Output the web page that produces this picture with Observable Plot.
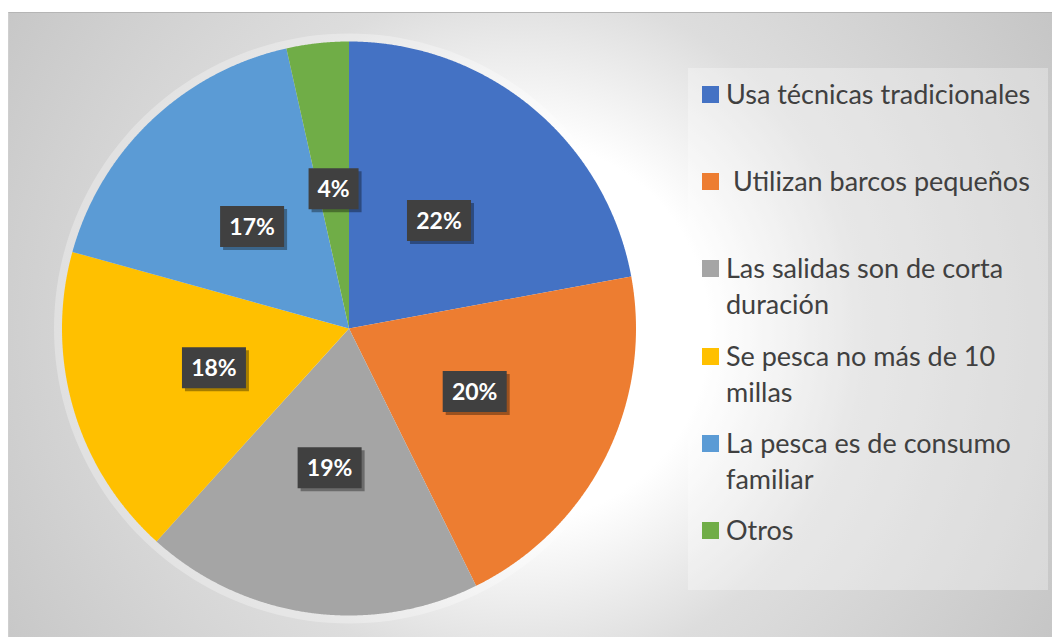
<!DOCTYPE html>
<html><head><meta charset="utf-8">
<script src="https://cdn.jsdelivr.net/npm/d3@7"></script>
<script src="https://cdn.jsdelivr.net/npm/@observablehq/plot@0.6"></script>
<style>
html,body{margin:0;padding:0;background:#fff;width:1052px;height:637px;overflow:hidden;}
#frame{position:absolute;left:8px;top:12px;width:1044px;height:625px;border-top:1px solid #b5b5b5;border-left:1px solid #cfcfcf;
  background:radial-gradient(circle at 510px 318px,#ffffff 0px,#ffffff 190px,#dddddd 345px,#c4c4c4 640px);overflow:hidden;}
#chart{position:absolute;left:0;top:0;}
#legend{position:absolute;left:679px;top:55px;width:360px;height:522px;background:rgba(255,255,255,0.3);}
.entry{position:absolute;left:14px;font-family:Lato,sans-serif;font-size:27px;line-height:36px;color:#404040;white-space:pre;}
.sw{position:absolute;left:0;width:17px;height:17px;}
.tx{position:absolute;left:24px;top:0;}
</style></head>
<body>
<div id="frame"><div id="chart"></div><div id="legend"></div></div>
<script>
// ---- data ----
const categories = ["Usa técnicas tradicionales", " Utilizan barcos pequeños", "Las salidas son de corta\nduración", "Se pesca no más de 10\nmillas", "La pesca es de consumo\nfamiliar", "Otros"];
const shares = [22.1, 20.6, 19.0, 17.6, 17.2, 3.5];
const pctLabels = ["22%", "20%", "19%", "18%", "17%", "4%"];
const colors = ["#4472C4", "#ED7D31", "#A5A5A5", "#FFC000", "#5B9BD5", "#70AD47"];

// ---- layout ----
const W = 1043, H = 624;
const cx = 339.5, cy = 315, R = 287;
const labelR = 0.49 * R;

const arcs = d3.pie().sort(null).startAngle(0).endAngle(2 * Math.PI)(shares);
const pt = (a, r) => [cx + r * Math.sin(a), cy - r * Math.cos(a)];
const slices = arcs.map((p, i) => {
  const ring = [[cx, cy]];
  const n = Math.max(4, Math.ceil((p.endAngle - p.startAngle) / 0.004));
  for (let k = 0; k <= n; k++) ring.push(pt(p.startAngle + (p.endAngle - p.startAngle) * k / n, R));
  ring.push([cx, cy]);
  return {type: "Feature", properties: {name: categories[i], color: colors[i]}, geometry: {type: "Polygon", coordinates: [ring]}};
});
const glowRing = d3.range(0, 361, 2).map(d => pt(d * Math.PI / 180, R + 8));
const glow = {type: "Feature", properties: {}, geometry: {type: "Polygon", coordinates: [glowRing]}};

const labels = arcs.map((p, i) => {
  const [x, y] = pt((p.startAngle + p.endAngle) / 2, labelR);
  return {x, y, text: pctLabels[i]};
});
const boxes = labels.map(l => {
  const w = l.text.length > 2 ? 64 : 50, h = 41;
  const x0 = l.x - w / 2, y0 = l.y - h / 2;
  return {type: "Feature", properties: {}, geometry: {type: "Polygon", coordinates: [[[x0, y0], [x0 + w, y0], [x0 + w, y0 + h], [x0, y0 + h], [x0, y0]]]}};
});
const frameRect = {type: "Polygon", coordinates: [[[0, 0], [W, 0], [W, H], [0, H], [0, 0]]]};

const plot = Plot.plot({
  width: W, height: H, margin: 0,
  style: {background: "transparent", overflow: "visible"},
  projection: {type: "identity", domain: frameRect, inset: 0},
  marks: [
    Plot.geo([glow], {fill: "white", fillOpacity: 0.3, ariaLabel: "glow"}),
    Plot.geo(slices, {fill: d => d.properties.color, stroke: "none"}),
    Plot.geo(boxes, {fill: "black", fillOpacity: 0.35, dx: 3, dy: 3, ariaLabel: "boxshadow"}),
    Plot.geo(boxes, {fill: "#404040"}),
    Plot.text(labels, {x: "x", y: "y", text: "text", fill: "white", fontFamily: "Lato, sans-serif", fontWeight: "bold", fontSize: 23, dy: 1})
  ]
});
const g1 = plot.querySelector('g[aria-label="glow"]'); if (g1) g1.style.filter = "blur(10px)";
const g2 = plot.querySelector('g[aria-label="boxshadow"]'); if (g2) g2.style.filter = "blur(2px)";
document.getElementById("chart").appendChild(plot);

// ---- legend ----
const legend = document.getElementById("legend");
const firstBaseline = 103 - 13 - 55; // page baseline -> legend coords
categories.forEach((c, i) => {
  const e = document.createElement("div");
  e.className = "entry";
  const lineTop = firstBaseline + i * 87.2 - 27;
  e.style.top = lineTop + "px";
  const sw = document.createElement("div");
  sw.className = "sw"; sw.style.background = colors[i]; sw.style.top = "10px";
  const tx = document.createElement("div");
  tx.className = "tx"; tx.textContent = c;
  e.appendChild(sw); e.appendChild(tx);
  legend.appendChild(e);
});
</script>
</body></html>
